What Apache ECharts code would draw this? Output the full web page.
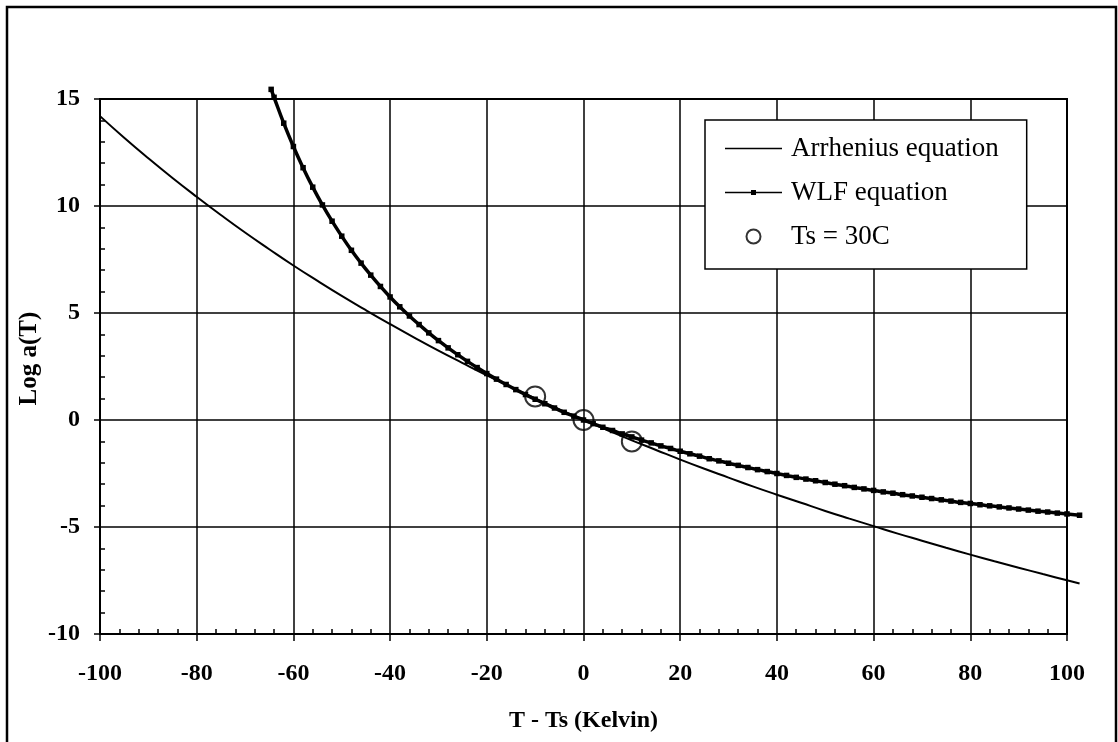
<!DOCTYPE html>
<html lang="en">
<head>
    <meta charset="UTF-8">
    <title>Log a(T) - Arrhenius vs WLF</title>
    <script src="https://cdn.jsdelivr.net/npm/echarts@6/dist/echarts.min.js"></script>
    <style>
        html, body { margin: 0; padding: 0; background: #fff; }
        #chart { width: 1118px; height: 742px; }
    </style>
</head>
<body>
<div id="chart"></div>
<script>
    // values
    var arrT = [-100, -95, -90, -85, -80, -75, -70, -65, -60, -55, -50, -45, -40, -35, -30, -25, -20, -15, -10, -5,
        0, 5, 10, 15, 20, 25, 30, 35, 40, 45, 50, 55, 60, 65, 70, 75, 80, 85, 90, 95, 100, 102.6];
    var arrLog = [14.20, 13.19, 12.23, 11.31, 10.43, 9.58, 8.76, 7.98, 7.22, 6.50, 5.80, 5.13, 4.48, 3.85, 3.24, 2.66, 2.09, 1.54, 1.01, 0.50,
        0, -0.48, -0.95, -1.40, -1.85, -2.28, -2.69, -3.10, -3.49, -3.87, -4.25, -4.61, -4.96, -5.31, -5.64, -5.97, -6.29, -6.60, -6.90, -7.20, -7.49, -7.64];

    var wlfT = [-64.6, -64, -62, -60, -58, -56, -54, -52, -50, -48, -46, -44, -42, -40, -38, -36, -34, -32, -30, -28, -26, -24, -22, -20,
        -18, -16, -14, -12, -10, -8, -6, -4, -2, 0, 2, 4, 6, 8, 10, 12, 14, 16, 18, 20, 22, 24, 26, 28, 30,
        32, 34, 36, 38, 40, 42, 44, 46, 48, 50, 52, 54, 56, 58, 60, 62, 64, 66, 68, 70, 72, 74, 76, 78, 80,
        82, 84, 86, 88, 90, 92, 94, 96, 98, 100, 102.6];
    var wlfLog = [15.45, 15.08, 13.87, 12.78, 11.79, 10.88, 10.05, 9.29, 8.59, 7.93, 7.33, 6.77, 6.24, 5.75, 5.29, 4.86, 4.46, 4.07, 3.71, 3.37, 3.05, 2.74, 2.45, 2.17,
        1.91, 1.66, 1.42, 1.19, 0.97, 0.76, 0.56, 0.36, 0.18, 0, -0.17, -0.34, -0.49, -0.65, -0.79, -0.94, -1.07, -1.21, -1.33, -1.46, -1.58, -1.69, -1.81, -1.91, -2.02,
        -2.12, -2.22, -2.32, -2.41, -2.50, -2.59, -2.68, -2.76, -2.84, -2.92, -3.00, -3.07, -3.15, -3.22, -3.29, -3.36, -3.42, -3.49, -3.55, -3.61, -3.67, -3.73, -3.79, -3.85, -3.90,
        -3.96, -4.01, -4.06, -4.11, -4.16, -4.21, -4.26, -4.30, -4.35, -4.39, -4.45];

    var tsT = [-10, 0, 10];
    var tsLog = [1.1, 0, -1.0];

    var names = ['Arrhenius equation', 'WLF equation', 'Ts = 30C'];

    function pairs(xs, ys) {
        var out = [];
        for (var i = 0; i < xs.length; i++) out.push([xs[i], ys[i]]);
        return out;
    }

    var serif = 'Liberation Serif, Times New Roman, serif';
    var black = '#000';

    // curves run a little past T-Ts = 100, so they live on a twin grid whose x range is wider
    // but has the same px per unit as the visible one
    var plotW = 1118 - 100 - 51;
    var xOver = 103;
    var overRight = 1118 - 100 - plotW * (xOver + 100) / 200;

    function overlayAxis(min, max, interval, pos) {
        return {
            type: 'value', position: pos,
            min: min, max: max, interval: interval,
            axisLine: { show: false, onZero: false },
            axisTick: { show: false, inside: true },
            axisLabel: { show: false },
            splitLine: { show: false },
            minorTick: { show: true, splitNumber: 5, length: 5, lineStyle: { color: black, width: 1.5 } }
        };
    }

    var chart = echarts.init(document.getElementById('chart'));
    var option = {
        animation: false,
        backgroundColor: '#fff',
        grid: [{
            left: 100, right: 51, top: 99, bottom: 108,
            show: true, borderColor: black, borderWidth: 2,
            outerBoundsMode: 'none'
        }, {
            left: 100, right: overRight, top: 99, bottom: 108,
            outerBoundsMode: 'none'
        }],
        graphic: [{
            type: 'polyline',
            silent: true,
            shape: { points: [[7, 760], [7, 7], [1116, 7], [1116, 760]] },
            style: { stroke: black, lineWidth: 2.5, fill: null }
        }],
        legend: {
            orient: 'vertical',
            left: 705, top: 120,
            padding: [15, 28, 19, 20],
            itemWidth: 57, itemHeight: 14, itemGap: 17,
            backgroundColor: '#fff',
            borderColor: black, borderWidth: 1.5,
            textStyle: { fontFamily: serif, fontSize: 27, color: black, padding: [0, 0, 0, 4] },
            data: [
                { name: names[0], icon: 'path://M0,0H57V1.6H0Z', itemStyle: { color: black } },
                { name: names[1], icon: 'path://M0,1.7H57V3.3H0Z M26,0H31V5H26Z', itemStyle: { color: black } },
                { name: names[2], itemStyle: { color: 'rgba(0,0,0,0)', borderColor: black, borderWidth: 2 } }
            ]
        },
        xAxis: [{
            type: 'value', position: 'bottom', gridIndex: 0,
            min: -100, max: 100, interval: 20,
            name: 'T - Ts (Kelvin)', nameLocation: 'middle', nameGap: 75, nameMoveOverlap: false,
            nameTextStyle: { fontFamily: serif, fontSize: 24, fontWeight: 'bold', color: black },
            axisLine: { show: true, onZero: false, lineStyle: { color: black, width: 2 } },
            axisTick: { show: true, length: 7, lineStyle: { color: black, width: 1.5 } },
            axisLabel: { margin: 28, fontFamily: serif, fontSize: 24, fontWeight: 'bold', color: black },
            splitLine: { show: true, lineStyle: { color: black, width: 1.5 } }
        },
            Object.assign(overlayAxis(-100, 100, 20, 'bottom'), { gridIndex: 0 }),
        {
            type: 'value', gridIndex: 1, show: false,
            min: -100, max: xOver,
            splitLine: { show: false }
        }],
        yAxis: [{
            type: 'value', position: 'left', gridIndex: 0,
            min: -10, max: 15, interval: 5,
            name: 'Log a(T)', nameLocation: 'middle', nameGap: 58, nameRotate: 90, nameMoveOverlap: false,
            nameTextStyle: { fontFamily: serif, fontSize: 25, fontWeight: 'bold', color: black, padding: [0, 0, 0, 16] },
            axisLine: { show: true, onZero: false, lineStyle: { color: black, width: 2 } },
            axisTick: { show: true, length: 6, lineStyle: { color: black, width: 1.5 } },
            axisLabel: { margin: 20, fontFamily: serif, fontSize: 24, fontWeight: 'bold', color: black },
            splitLine: { show: true, lineStyle: { color: black, width: 1.5 } }
        },
            Object.assign(overlayAxis(-10, 15, 5, 'left'), { gridIndex: 0 }),
        {
            type: 'value', gridIndex: 1, show: false,
            min: -10, max: 15,
            splitLine: { show: false }
        }],
        series: [{
            name: names[0],
            type: 'line',
            xAxisIndex: 2, yAxisIndex: 2,
            data: pairs(arrT, arrLog),
            smooth: true,
            symbol: 'none',
            clip: false,
            lineStyle: { color: black, width: 2 },
            itemStyle: { color: black },
            z: 3
        }, {
            name: names[1],
            type: 'line',
            xAxisIndex: 2, yAxisIndex: 2,
            data: pairs(wlfT, wlfLog),
            smooth: true,
            symbol: 'rect',
            symbolSize: 5.5,
            showSymbol: true,
            clip: false,
            lineStyle: { color: black, width: 3.5 },
            itemStyle: { color: black },
            z: 4
        }, {
            name: names[2],
            type: 'scatter',
            xAxisIndex: 2, yAxisIndex: 2,
            data: pairs(tsT, tsLog),
            symbol: 'circle',
            symbolSize: 20,
            itemStyle: { color: 'rgba(0,0,0,0)', borderColor: black, borderWidth: 2 },
            z: 5
        }]
    };
    chart.setOption(option);
</script>
</body>
</html>
